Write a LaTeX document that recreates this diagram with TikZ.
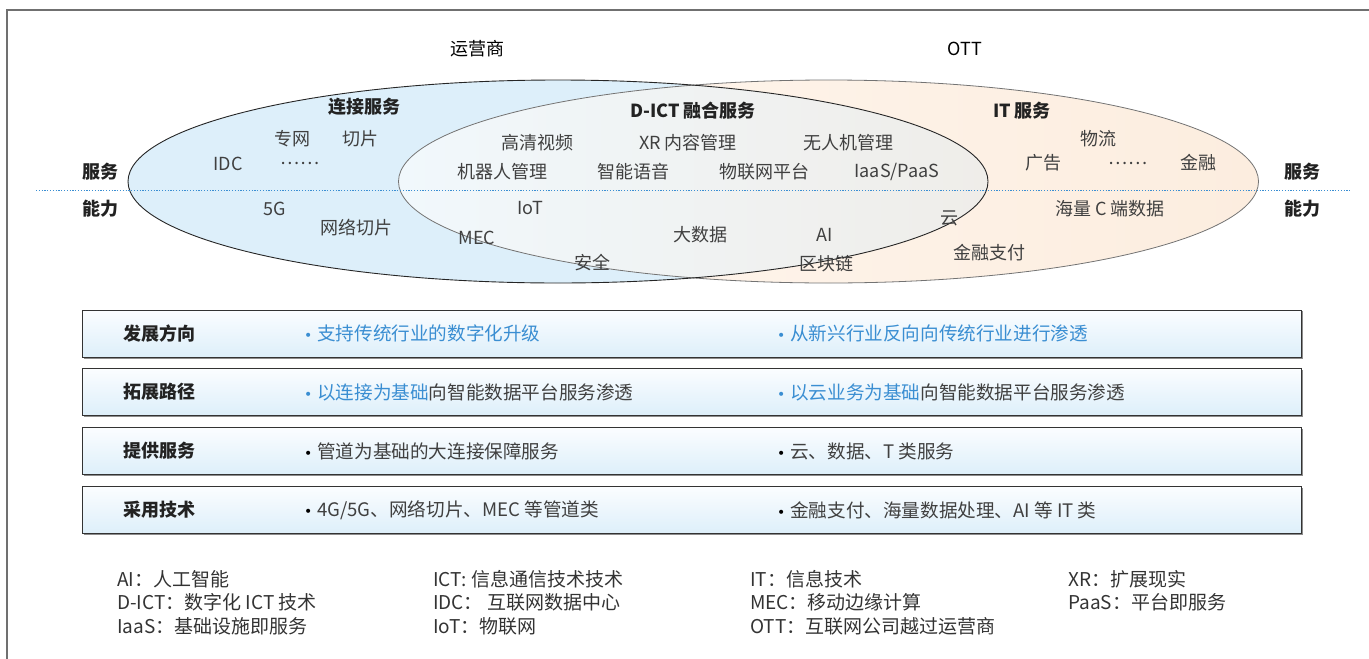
\documentclass[tikz,border=0pt]{standalone}
\usepackage{fontspec}
\setmainfont{Noto Sans CJK SC}
\newfontfamily\bulfont{DejaVu Sans}
\definecolor{bluefill}{HTML}{DDEFFA}
\definecolor{orangeL}{HTML}{FFF7EF}
\definecolor{orangeR}{HTML}{FCEDDF}
\definecolor{lensL}{HTML}{F1F8FC}
\definecolor{lensR}{HTML}{EFEDE9}
\definecolor{txtblue}{HTML}{3A8ED2}
\definecolor{dotblue}{HTML}{3A8ED2}
\definecolor{labelgray}{HTML}{404040}
\definecolor{darktxt}{HTML}{222222}
\definecolor{boxtop}{HTML}{FBFDFF}
\definecolor{boxbot}{HTML}{DDEFFA}
\definecolor{framegray}{HTML}{707070}
\newcommand{\bulmark}[1]{\makebox[15pt][l]{\hspace{2pt}\color{#1}\bulfont\fontsize{14}{14}\selectfont •}}
\begin{document}
\begin{tikzpicture}[x=1pt,y=-1pt,
  hd/.style={font=\fontsize{18}{21}\selectfont\bfseries, text=darktxt, inner sep=0pt},
  lbl/.style={font=\fontsize{18}{21}\selectfont, text=labelgray, inner sep=0pt},
  toplbl/.style={font=\fontsize{18}{21}\selectfont, text=black, inner sep=0pt},
  rowbox/.style={draw=black!80, line width=0.9pt, top color=boxtop, bottom color=boxbot, minimum width=1219pt, minimum height=47pt, inner sep=0pt},
  rowhd/.style={font=\fontsize{18}{21}\selectfont\bfseries, text=darktxt, anchor=west, inner sep=0pt},
  rowtxt/.style={font=\fontsize{18.6}{21}\selectfont, text=labelgray, anchor=west, inner sep=0pt},
  legend/.style={font=\fontsize{19}{21}\selectfont, text=black!80, anchor=west, inner sep=0pt},
]
\useasboundingbox (0,0) rectangle (1369,659);
% outer frame (only top and left visible)
\draw[framegray, line width=1.3pt] (7,659) -- (7,10) -- (1369,10);

% ellipses
\fill[bluefill] (558,181.5) ellipse [x radius=430pt, y radius=101.5pt];
\shade[left color=orangeL, right color=orangeR] (828.5,181.5) ellipse [x radius=430pt, y radius=101.5pt];
\begin{scope}
  \clip (558,181.5) ellipse [x radius=430pt, y radius=101.5pt];
  \clip (828.5,181.5) ellipse [x radius=430pt, y radius=101.5pt];
  \shade[left color=lensL, right color=lensR] (398,78) rectangle (989,285);
\end{scope}
\draw[black!55, line width=0.8pt] (828.5,181.5) ellipse [x radius=430pt, y radius=101.5pt];
\draw[black!85, line width=0.9pt] (558,181.5) ellipse [x radius=430pt, y radius=101.5pt];

% dotted divider
\coordinate (dl) at (36,190);
\coordinate (dr) at (1350,190);
\draw[dotblue, line width=1pt, dash pattern=on 1.2pt off 1.6pt] (dl) -- (dr);

% top labels
\node[toplbl] (yys) at (477,49) {运营商};
\node[toplbl] (ott) at (965,49) {OTT};

% side labels
\node[hd] (fwL) at (100,172) {服务};
\node[hd] (nlL) at (100,209) {能力};
\node[hd] (fwR) at (1302,172) {服务};
\node[hd] (nlR) at (1302,209) {能力};

% group titles
\node[hd] (ljfw) at (364,107) {连接服务};
\node[hd] (dict) at (693,111) {D-ICT 融合服务};
\node[hd] (itfw) at (1022,111) {IT 服务};

% left region
\node[lbl] (zw) at (292,139) {专网};
\node[lbl] (qp) at (360,139) {切片};
\node[lbl] (idc) at (228,164) {IDC};
\node[lbl] (dotsL) at (300,163) {……};
\node[lbl] (g5) at (275,209) {5G};
\node[lbl] (wlqp) at (356,228) {网络切片};

% lens
\node[lbl] (gqsp) at (537,143) {高清视频};
\node[lbl] (xr) at (688,143) {XR 内容管理};
\node[lbl] (wrj) at (848,143) {无人机管理};
\node[lbl] (jqr) at (502,172) {机器人管理};
\node[lbl] (znyy) at (633,172) {智能语音};
\node[lbl] (wlw) at (764,172) {物联网平台};
\node[lbl] (iaas) at (897,172) {IaaS/PaaS};
\node[lbl] (iot) at (530,208) {IoT};
\node[lbl] (mec) at (477,238) {MEC};
\node[lbl] (dsj) at (700,235) {大数据};
\node[lbl] (ai) at (825,235) {AI};
\node[lbl] (aq) at (592,263) {安全};
\node[lbl] (qkl) at (826,264) {区块链};

% right region
\node[lbl] (wl) at (1098,139) {物流};
\node[lbl] (gg) at (1043,163) {广告};
\node[lbl] (dotsR) at (1128,163) {……};
\node[lbl] (jr) at (1198,163) {金融};
\node[lbl] (hl) at (1110,209) {海量 C 端数据};
\node[lbl] (yun) at (949,218) {云};
\node[lbl] (jrzf) at (989,253) {金融支付};

% table rows
\foreach \n/\y in {1/333.5, 2/392, 3/451, 4/510}{
  \draw[black!45, line width=1.6pt] (83.5,\y+24.5) -- (1302.5,\y+24.5) -- (1302.5,\y-22.5);
  \node[rowbox] (row\n) at (692,\y) {};
}
\node[rowhd] (h1) at (123,333.5) {发展方向};
\node[rowhd] (h2) at (123,392) {拓展路径};
\node[rowhd] (h3) at (123,451) {提供服务};
\node[rowhd] (h4) at (123,510) {采用技术};

\node[rowtxt, text=txtblue] (a1) at (302,333.5) {\bulmark{txtblue}支持传统行业的数字化升级};
\node[rowtxt] (a2) at (302,392) {\bulmark{txtblue}{\color{txtblue}以连接为基础}向智能数据平台服务渗透};
\node[rowtxt] (a3) at (302,451) {\bulmark{black}管道为基础的大连接保障服务};
\node[rowtxt] (a4) at (302,510) {\bulmark{black}4G/5G、网络切片、MEC 等管道类};

\node[rowtxt, text=txtblue] (b1) at (775,333.5) {\bulmark{txtblue}从新兴行业反向向传统行业进行渗透};
\node[rowtxt] (b2) at (775,392) {\bulmark{txtblue}{\color{txtblue}以云业务为基础}向智能数据平台服务渗透};
\node[rowtxt] (b3) at (775,451) {\bulmark{black}云、数据、T 类服务};
\node[rowtxt] (b4) at (775,510) {\bulmark{black}金融支付、海量数据处理、AI 等 IT 类};

% legend
\node[legend] (l11) at (117,579) {AI：人工智能};
\node[legend] (l12) at (117,602.5) {D-ICT：数字化 ICT 技术};
\node[legend] (l13) at (117,626) {IaaS：基础设施即服务};
\node[legend] (l21) at (433,579) {ICT: 信息通信技术技术};
\node[legend] (l22) at (433,602.5) {IDC： 互联网数据中心};
\node[legend] (l23) at (433,626) {IoT：物联网};
\node[legend] (l31) at (750,579) {IT：信息技术};
\node[legend] (l32) at (750,602.5) {MEC：移动边缘计算};
\node[legend] (l33) at (750,626) {OTT：互联网公司越过运营商};
\node[legend] (l41) at (1068,579) {XR：扩展现实};
\node[legend] (l42) at (1068,602.5) {PaaS：平台即服务};
\end{tikzpicture}
\end{document}
